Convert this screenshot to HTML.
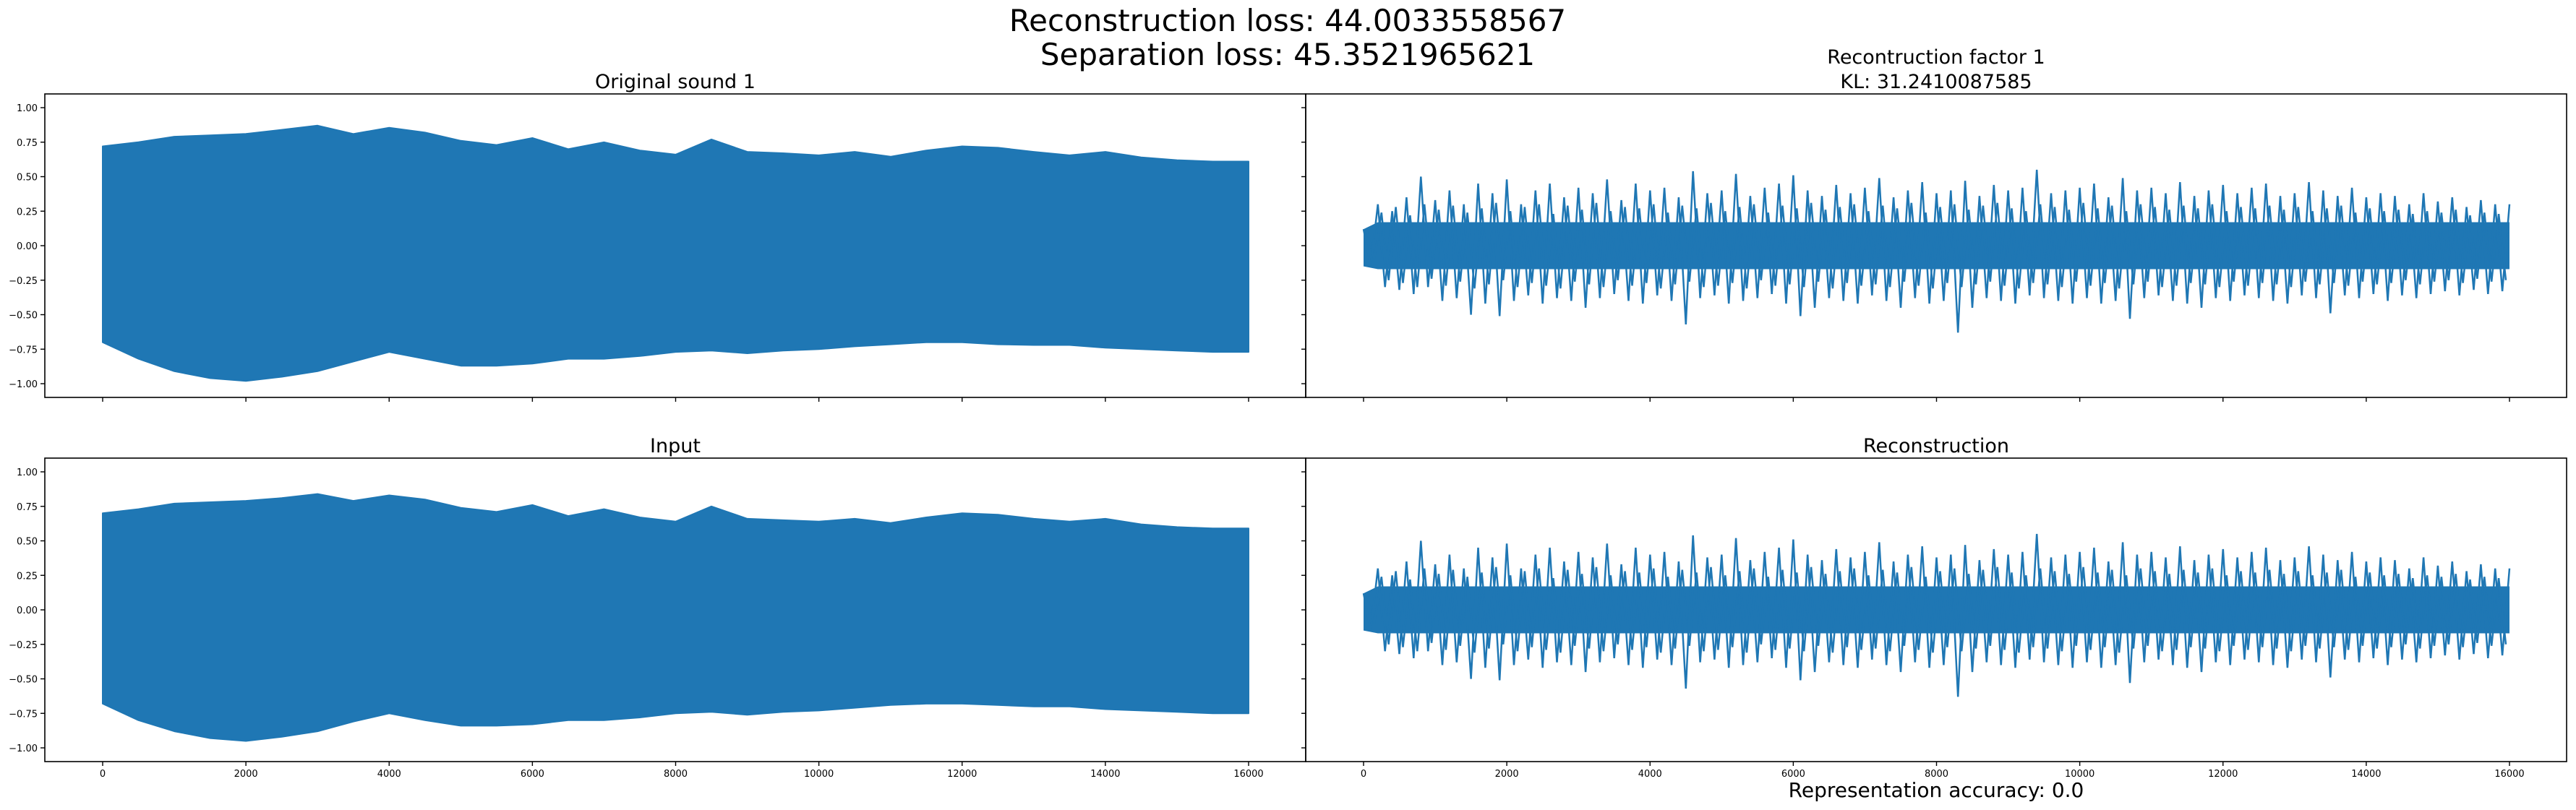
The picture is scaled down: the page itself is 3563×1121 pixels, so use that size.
<!DOCTYPE html>
<html><head><meta charset="utf-8"><style>
html,body{margin:0;padding:0;background:#fff}
svg{display:block}
text{font-family:"DejaVu Sans","Liberation Sans",sans-serif;fill:#000}
</style></head><body>
<svg id="fig" width="3563" height="1121" viewBox="0 0 3563 1121" xmlns="http://www.w3.org/2000/svg">
<rect width="3563" height="1121" fill="#fff"/>
<text x="1781" y="43" font-size="42" text-anchor="middle">Reconstruction loss: 44.0033558567</text>
<text x="1781" y="90" font-size="42" text-anchor="middle">Separation loss: 45.3521965621</text>
<text x="934" y="122" font-size="27" text-anchor="middle">Original sound 1</text>
<text x="2678" y="88" font-size="27" text-anchor="middle">Recontruction factor 1</text>
<text x="2678" y="122" font-size="27" text-anchor="middle">KL: 31.2410087585</text>
<text x="934" y="626" font-size="27" text-anchor="middle">Input</text>
<text x="2678" y="626" font-size="27" text-anchor="middle">Reconstruction</text>
<text x="2678" y="1103" font-size="28" text-anchor="middle">Representation accuracy: 0.0</text>
</svg>
<script>
const envStep = 500;
const origUpper = [0.72,0.75,0.79,0.80,0.81,0.84,0.87,0.81,0.855,0.82,0.76,0.73,0.78,0.70,0.75,0.69,0.66,0.77,0.68,0.67,0.655,0.68,0.645,0.69,0.72,0.71,0.68,0.655,0.68,0.64,0.62,0.61,0.61];
const origLower = [-0.70,-0.82,-0.91,-0.96,-0.98,-0.95,-0.91,-0.84,-0.77,-0.82,-0.87,-0.87,-0.855,-0.82,-0.82,-0.80,-0.77,-0.76,-0.78,-0.76,-0.75,-0.73,-0.715,-0.70,-0.70,-0.715,-0.72,-0.72,-0.74,-0.75,-0.76,-0.77,-0.77];
const inputUpper = [0.70,0.73,0.77,0.78,0.79,0.81,0.84,0.79,0.83,0.80,0.74,0.71,0.76,0.68,0.73,0.67,0.64,0.75,0.66,0.65,0.64,0.66,0.63,0.67,0.70,0.69,0.66,0.64,0.66,0.62,0.60,0.59,0.59];
const inputLower = [-0.68,-0.80,-0.88,-0.93,-0.95,-0.92,-0.88,-0.81,-0.75,-0.80,-0.84,-0.84,-0.83,-0.80,-0.80,-0.78,-0.75,-0.74,-0.76,-0.74,-0.73,-0.71,-0.69,-0.68,-0.68,-0.69,-0.70,-0.70,-0.72,-0.73,-0.74,-0.75,-0.75];
const noiseStep = 200;
const noiseUpper = [0.12,0.30,0.25,0.35,0.50,0.33,0.40,0.30,0.45,0.38,0.48,0.30,0.40,0.45,0.35,0.42,0.38,0.48,0.33,0.45,0.40,0.42,0.35,0.54,0.38,0.40,0.52,0.36,0.42,0.45,0.51,0.40,0.36,0.44,0.38,0.42,0.49,0.35,0.40,0.46,0.38,0.40,0.47,0.36,0.44,0.40,0.42,0.55,0.38,0.40,0.42,0.45,0.35,0.49,0.40,0.42,0.38,0.46,0.36,0.40,0.44,0.38,0.42,0.45,0.36,0.38,0.46,0.40,0.36,0.42,0.35,0.38,0.36,0.30,0.38,0.32,0.35,0.28,0.33,0.30,0.30];
const noiseLower = [-0.15,-0.30,-0.32,-0.35,-0.30,-0.40,-0.38,-0.50,-0.42,-0.51,-0.40,-0.36,-0.42,-0.38,-0.40,-0.45,-0.38,-0.35,-0.40,-0.42,-0.36,-0.40,-0.57,-0.38,-0.36,-0.42,-0.40,-0.38,-0.35,-0.42,-0.51,-0.45,-0.38,-0.40,-0.42,-0.36,-0.40,-0.45,-0.38,-0.42,-0.40,-0.63,-0.45,-0.38,-0.40,-0.42,-0.36,-0.38,-0.40,-0.42,-0.38,-0.42,-0.40,-0.53,-0.38,-0.36,-0.40,-0.42,-0.45,-0.38,-0.40,-0.36,-0.38,-0.40,-0.42,-0.36,-0.38,-0.49,-0.36,-0.38,-0.35,-0.40,-0.36,-0.38,-0.35,-0.33,-0.36,-0.32,-0.35,-0.33,-0.33];
const noiseMidUpper = [0.10,0.24,0.28,0.22,0.30,0.26,0.29,0.24,0.27,0.31,0.25,0.28,0.30,0.23,0.29,0.26,0.31,0.25,0.28,0.27,0.30,0.24,0.29,0.27,0.31,0.25,0.28,0.30,0.24,0.29,0.27,0.31,0.26,0.28,0.30,0.25,0.29,0.27,0.31,0.24,0.28,0.30,0.26,0.29,0.31,0.27,0.25,0.30,0.28,0.26,0.31,0.27,0.29,0.25,0.30,0.28,0.26,0.29,0.27,0.30,0.25,0.28,0.27,0.29,0.26,0.28,0.25,0.27,0.29,0.24,0.27,0.25,0.26,0.23,0.25,0.24,0.26,0.22,0.24,0.23];
const noiseMidLower = [-0.10,-0.25,-0.27,-0.30,-0.24,-0.29,-0.26,-0.31,-0.28,-0.25,-0.30,-0.27,-0.29,-0.31,-0.26,-0.28,-0.30,-0.25,-0.29,-0.27,-0.31,-0.28,-0.26,-0.30,-0.29,-0.27,-0.31,-0.25,-0.29,-0.28,-0.30,-0.26,-0.31,-0.27,-0.29,-0.28,-0.30,-0.26,-0.29,-0.31,-0.27,-0.30,-0.28,-0.26,-0.29,-0.31,-0.27,-0.28,-0.30,-0.26,-0.29,-0.27,-0.31,-0.28,-0.26,-0.30,-0.29,-0.27,-0.28,-0.30,-0.26,-0.29,-0.27,-0.28,-0.30,-0.26,-0.28,-0.27,-0.29,-0.26,-0.28,-0.27,-0.25,-0.28,-0.26,-0.25,-0.27,-0.24,-0.26,-0.25];
const noiseCore = 0.17;
const yTicks = [1.0,0.75,0.5,0.25,0,-0.25,-0.5,-0.75,-1.0];
const yTickLabels = ["1.00","0.75","0.50","0.25","0.00","\u22120.25","\u22120.50","\u22120.75","\u22121.00"];
const xTicks = [0,2000,4000,6000,8000,10000,12000,14000,16000];
const xTickLabels = ["0","2000","4000","6000","8000","10000","12000","14000","16000"];

const NS = "http://www.w3.org/2000/svg";
const svg = document.getElementById('fig');
const C = '#1f77b4';
function mk(tag, attrs, parent){const e=document.createElementNS(NS,tag);for(const k in attrs)e.setAttribute(k,attrs[k]);(parent||svg).appendChild(e);return e;}

const panels = [
 {name:'original-sound-panel', x:62, y:130, kind:'env', up:origUpper, lo:origLower, ylab:true, xlab:false},
 {name:'reconstruction-factor-panel', x:1806, y:130, kind:'noise', ylab:false, xlab:false},
 {name:'input-panel', x:62, y:634, kind:'env', up:inputUpper, lo:inputLower, ylab:true, xlab:true},
 {name:'reconstruction-panel', x:1806, y:634, kind:'noise', ylab:false, xlab:true}
];
const W=1744, H=420;
panels.forEach(p=>{
  const g = mk('g',{});
  
  
  const xs = v => p.x + 80 + v*(1585/16000);
  const ys = v => p.y + 210 - v*191;
  if(p.kind==='env'){
    let pts=[];
    p.up.forEach((v,i)=>pts.push(xs(i*envStep).toFixed(1)+','+ys(v).toFixed(1)));
    for(let i=p.lo.length-1;i>=0;i--) pts.push(xs(i*envStep).toFixed(1)+','+ys(p.lo[i]).toFixed(1));
    const poly = mk('polygon',{points:pts.join(' '),fill:C,stroke:C,'stroke-width':2,'stroke-linejoin':'round'},g);
    
    
  } else {
    let core=[];
    noiseUpper.forEach((v,i)=>core.push(xs(i*noiseStep).toFixed(1)+','+ys(Math.min(v,noiseCore)).toFixed(1)));
    for(let i=noiseLower.length-1;i>=0;i--) core.push(xs(i*noiseStep).toFixed(1)+','+ys(Math.max(noiseLower[i],-noiseCore)).toFixed(1));
    const cp = mk('polygon',{points:core.join(' '),fill:C},g);
    
    
    let mpts=[];
    noiseMidUpper.forEach((v,i)=>{
      mpts.push(xs(i*noiseStep+noiseStep*0.25).toFixed(1)+','+ys(v).toFixed(1));
      mpts.push(xs(i*noiseStep+noiseStep*0.75).toFixed(1)+','+ys(noiseMidLower[i]).toFixed(1));
    });
    const ml = mk('polyline',{points:mpts.join(' '),fill:'none',stroke:C,'stroke-width':2.5},g);
    
    
    let pts=[];
    noiseUpper.forEach((v,i)=>{
      pts.push(xs(i*noiseStep).toFixed(1)+','+ys(v).toFixed(1));
      if(i<noiseLower.length-1) pts.push(xs(i*noiseStep+noiseStep/2).toFixed(1)+','+ys(noiseLower[i]).toFixed(1));
    });
    const pl = mk('polyline',{points:pts.join(' '),fill:'none',stroke:C,'stroke-width':2.5},g);
    
    
  }
  const frame = mk('rect',{x:p.x,y:p.y,width:W,height:H,fill:'none',stroke:'#000','stroke-width':1.6},g);
  
  
  yTicks.forEach((v,i)=>{
    const t = mk('line',{x1:p.x-6,x2:p.x,y1:ys(v),y2:ys(v),stroke:'#000','stroke-width':1.4},g);
    
    
    if(p.ylab){
      const tx = mk('text',{x:p.x-10,y:ys(v)+5,'font-size':13,'text-anchor':'end'},g);
      tx.textContent = yTickLabels[i];
      
      
    }
  });
  xTicks.forEach((v,i)=>{
    const t = mk('line',{x1:xs(v),x2:xs(v),y1:p.y+H,y2:p.y+H+6,stroke:'#000','stroke-width':1.4},g);
    
    
    if(p.xlab){
      const tx = mk('text',{x:xs(v),y:p.y+H+21,'font-size':13,'text-anchor':'middle'},g);
      tx.textContent = xTickLabels[i];
      
      
    }
  });
});
</script>
</body></html>
